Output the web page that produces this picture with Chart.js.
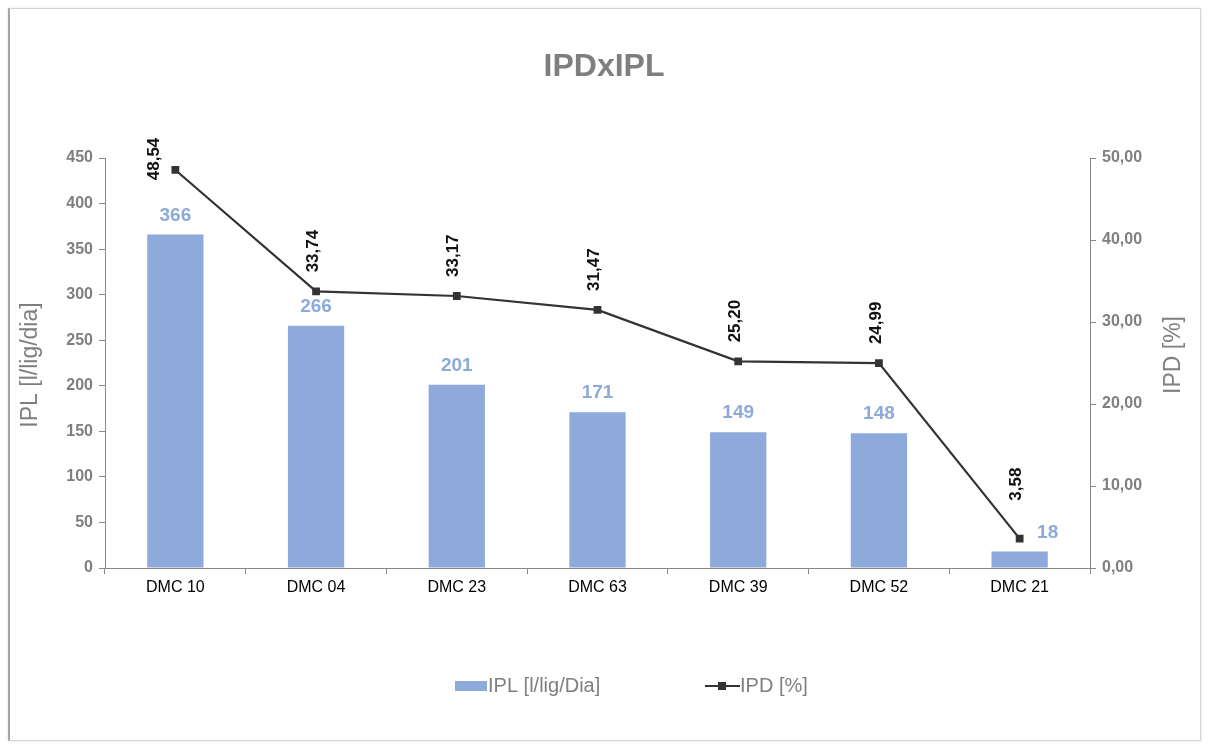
<!DOCTYPE html>
<html>
<head>
<meta charset="utf-8">
<script src="https://cdn.jsdelivr.net/npm/chart.js@4.4.1/dist/chart.umd.min.js"></script>
<style>
  html, body { margin: 0; padding: 0; background: #ffffff; }
  #wrap { position: relative; width: 1209px; height: 744px; }
  #frame {
    position: absolute; left: 8px; top: 8px; width: 1190px; height: 731px;
    border: 1px solid #d4d4d4; border-left: 2px solid #a6a6a6;
    box-shadow: 0 0 3px rgba(0,0,0,0.12);
    pointer-events: none;
  }
  canvas { position: absolute; left: 0; top: 0; }
</style>
</head>
<body>
<div id="wrap">
  <canvas id="chart" width="1209" height="744"></canvas>
  <div id="frame"></div>
</div>
<script>
// Categories and series
const categories = ['DMC 10', 'DMC 04', 'DMC 23', 'DMC 63', 'DMC 39', 'DMC 52', 'DMC 21'];
const iplValues = [366, 266, 201, 171, 149, 148, 18];
const ipdValues = [48.54, 33.74, 33.17, 31.47, 25.20, 24.99, 3.58];

const chartTitle = 'IPDxIPL';
const iplLabel = 'IPL [l/lig/Dia]';
const ipdLabel = 'IPD [%]';
const leftAxisTitle = 'IPL [l/lig/dia]';
const rightAxisTitle = 'IPD [%]';

const BAR_COLOR = '#8eaadb';
const LINE_COLOR = '#333333';
const AXIS_COLOR = '#898989';
const GREY_TEXT = '#7f7f7f';
const FONT = '"Liberation Sans", Arial, sans-serif';

const comma = v => v.toFixed(2).replace('.', ',');

// Title, axis titles, value labels and legend drawn on the canvas
const decorations = {
  id: 'decorations',
  afterDatasetsDraw(chart) {
    const ctx = chart.ctx;
    const area = chart.chartArea;
    const bars = chart.getDatasetMeta(0).data;
    const points = chart.getDatasetMeta(1).data;
    const moved = [];
    ctx.save();

    // title
    ctx.fillStyle = GREY_TEXT;
    ctx.font = 'bold 32px ' + FONT;
    ctx.textAlign = 'center';
    ctx.textBaseline = 'middle';
    ctx.fillText(chartTitle, 604, 67);

    // axis titles (both read bottom to top)
    ctx.font = '23px ' + FONT;
    ctx.fillStyle = GREY_TEXT;
    ctx.save();
    ctx.translate(31, 365);
    ctx.rotate(-Math.PI / 2);
    ctx.fillText(leftAxisTitle, 0, 0);
    ctx.restore();
    ctx.save();
    ctx.translate(1174, 355);
    ctx.rotate(-Math.PI / 2);
    ctx.fillText(rightAxisTitle, 0, 0);
    ctx.restore();

    // bar value labels
    ctx.font = 'bold 19px ' + FONT;
    ctx.fillStyle = BAR_COLOR;
    bars.forEach((bar, i) => {
      let x = bar.x;
      const y = bar.y - 19;
      const p = points[i];
      // step aside when the line marker sits on the label
      moved[i] = Math.abs(p.y - y) < 14 && Math.abs(p.x - x) < 20;
      if (moved[i]) x += 28;
      ctx.fillText(String(iplValues[i]), x, y);
    });

    // line value labels, rotated
    ctx.font = 'bold 17px ' + FONT;
    ctx.fillStyle = '#111111';
    points.forEach((p, i) => {
      const text = comma(ipdValues[i]);
      const w = ctx.measureText(text).width;
      let cx = p.x - 3;
      let cy = p.y - 19 - w / 2;
      if (moved[i]) cy -= 19;
      if (cy - w / 2 < area.top - 12) {
        cx = p.x - 21;
        cy = p.y - 11;
      }
      ctx.save();
      ctx.translate(cx, cy);
      ctx.rotate(-Math.PI / 2);
      ctx.textAlign = 'center';
      ctx.textBaseline = 'middle';
      ctx.fillText(text, 0, 0);
      ctx.restore();
    });

    // legend
    const ly = 686;
    ctx.fillStyle = BAR_COLOR;
    ctx.fillRect(455, ly - 5, 32, 10);
    ctx.font = '20px ' + FONT;
    ctx.fillStyle = GREY_TEXT;
    ctx.textAlign = 'left';
    ctx.textBaseline = 'middle';
    ctx.fillText(iplLabel, 488, ly);
    ctx.strokeStyle = LINE_COLOR;
    ctx.lineWidth = 2;
    ctx.beginPath();
    ctx.moveTo(705, ly);
    ctx.lineTo(740, ly);
    ctx.stroke();
    ctx.fillStyle = LINE_COLOR;
    ctx.fillRect(718, ly - 4, 8, 8);
    ctx.fillStyle = GREY_TEXT;
    ctx.fillText(ipdLabel, 740, ly);

    ctx.restore();
  }
};

new Chart(document.getElementById('chart'), {
  type: 'bar',
  data: {
    labels: categories,
    datasets: [
      {
        label: iplLabel,
        data: iplValues,
        backgroundColor: BAR_COLOR,
        yAxisID: 'y',
        barPercentage: 0.4,
        categoryPercentage: 1.0,
        order: 2
      },
      {
        type: 'line',
        label: ipdLabel,
        data: ipdValues,
        yAxisID: 'y1',
        borderColor: LINE_COLOR,
        borderWidth: 2.2,
        backgroundColor: LINE_COLOR,
        pointStyle: 'rect',
        pointRadius: 5.5,
        pointBorderWidth: 0,
        pointBackgroundColor: LINE_COLOR,
        tension: 0,
        order: 1
      }
    ]
  },
  options: {
    responsive: false,
    animation: false,
    layout: { padding: { top: 158, left: 0, right: 0, bottom: 0 } },
    plugins: {
      legend: { display: false },
      title: { display: false },
      tooltip: { enabled: false }
    },
    scales: {
      x: {
        grid: { offset: true, drawOnChartArea: false, drawTicks: true, tickLength: 6, color: AXIS_COLOR },
        border: { color: AXIS_COLOR, width: 1 },
        ticks: { color: '#000000', font: { family: FONT, size: 16 }, padding: 4, maxRotation: 0 },
        afterFit(scale) { scale.height = 176; }
      },
      y: {
        position: 'left',
        min: 0, max: 450,
        ticks: { stepSize: 50, color: GREY_TEXT, font: { family: FONT, size: 16, weight: 'bold' }, padding: 6 },
        grid: { drawOnChartArea: false, drawTicks: true, tickLength: 6, color: AXIS_COLOR },
        border: { color: AXIS_COLOR, width: 1 },
        afterFit(scale) { scale.width = 105; }
      },
      y1: {
        position: 'right',
        min: 0, max: 50,
        ticks: { stepSize: 10, color: GREY_TEXT, font: { family: FONT, size: 16, weight: 'bold' }, padding: 6,
                 callback: v => comma(v) },
        grid: { drawOnChartArea: false, drawTicks: true, tickLength: 6, color: AXIS_COLOR },
        border: { color: AXIS_COLOR, width: 1 },
        afterFit(scale) { scale.width = 119; }
      }
    }
  },
  plugins: [decorations]
});
</script>
</body>
</html>
